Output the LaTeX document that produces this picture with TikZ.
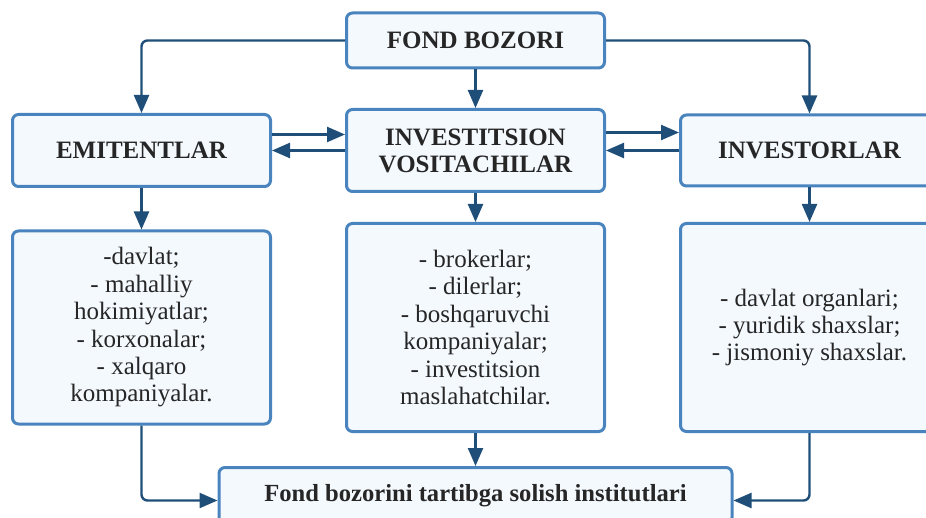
\documentclass[tikz,border=0pt]{standalone}
\usepackage{fontspec}
\setmainfont{Liberation Serif}
\usetikzlibrary{arrows.meta}
\definecolor{boxline}{HTML}{4A84BE}
\definecolor{boxfill}{HTML}{F4F9FE}
\definecolor{arrowblue}{HTML}{1F4E79}
\tikzstyle{titlebox} = [rectangle, rounded corners=3pt, minimum width=129pt, inner sep=0pt, text centered, align=center, line width=1.5pt, draw=boxline, fill=boxfill, font=\rmfamily\bfseries\fontsize{12.5}{13.5}\selectfont, text=black!85]
\tikzstyle{listbox} = [rectangle, rounded corners=3pt, minimum width=129pt, inner sep=0pt, text centered, align=center, line width=1.5pt, draw=boxline, fill=boxfill, font=\rmfamily\fontsize{12.5}{13.7}\selectfont, text=black!85]
\tikzstyle{arrow} = [line width=1.2pt, draw=arrowblue, -{Triangle[length=9pt,width=7.5pt]}, rounded corners=3pt]

\begin{document}
\begin{tikzpicture}[x=0.5pt, y=-0.5pt]
\useasboundingbox (0,0) rectangle (926,518);
\node (fond) [titlebox, minimum height=27.5pt] at (475.5,40.5) {FOND BOZORI};
\node (vosita) [titlebox, minimum height=41pt, node distance=55pt, below of=fond] {INVESTITSION\\VOSITACHILAR};
\node (emit) [titlebox, minimum height=36pt, node distance=167pt, left of=vosita] {EMITENTLAR};
\node (investor) [titlebox, minimum height=35.5pt, node distance=167pt, right of=vosita] {INVESTORLAR};
\node (emitlist) [listbox, minimum height=96.5pt, node distance=88.5pt, below of=emit] {-davlat;\\- mahalliy\\hokimiyatlar;\\- korxonalar;\\- xalqaro\\kompaniyalar.};
\node (vositalist) [listbox, minimum height=104pt, node distance=88.5pt, below of=vosita] {- brokerlar;\\- dilerlar;\\- boshqaruvchi\\kompaniyalar;\\- investitsion\\maslahatchilar.};
\node (investlist) [listbox, minimum height=104pt, node distance=88.5pt, below of=investor] {- davlat organlari;\\- yuridik shaxslar;\\- jismoniy shaxslar.};
\node (tartib) [titlebox, minimum width=256.5pt, minimum height=28pt, font=\rmfamily\bfseries\fontsize{12.3}{13}\selectfont, node distance=84pt, below of=vositalist] {Fond bozorini tartibga solish institutlari};

\draw [arrow] (fond.west) -| (emit.north);
\draw [arrow] (fond) -- (vosita);
\draw [arrow] (fond.east) -| (investor.north);
\draw [arrow] ([yshift=8pt]emit.east) -- ([yshift=8pt]vosita.west);
\draw [arrow] (vosita.west) -- (emit.east);
\draw [arrow] ([yshift=9pt]vosita.east) -- ([yshift=9pt]investor.west);
\draw [arrow] (investor.west) -- (vosita.east);
\draw [arrow] (emit) -- (emitlist);
\draw [arrow] (vosita) -- (vositalist);
\draw [arrow] (investor) -- (investlist);
\draw [arrow] (vositalist) -- (tartib);
\draw [arrow] (emitlist.south) |- ([yshift=-2.5pt]tartib.west);
\draw [arrow] (investlist.south) |- ([yshift=-2.5pt]tartib.east);
\end{tikzpicture}
\end{document}
